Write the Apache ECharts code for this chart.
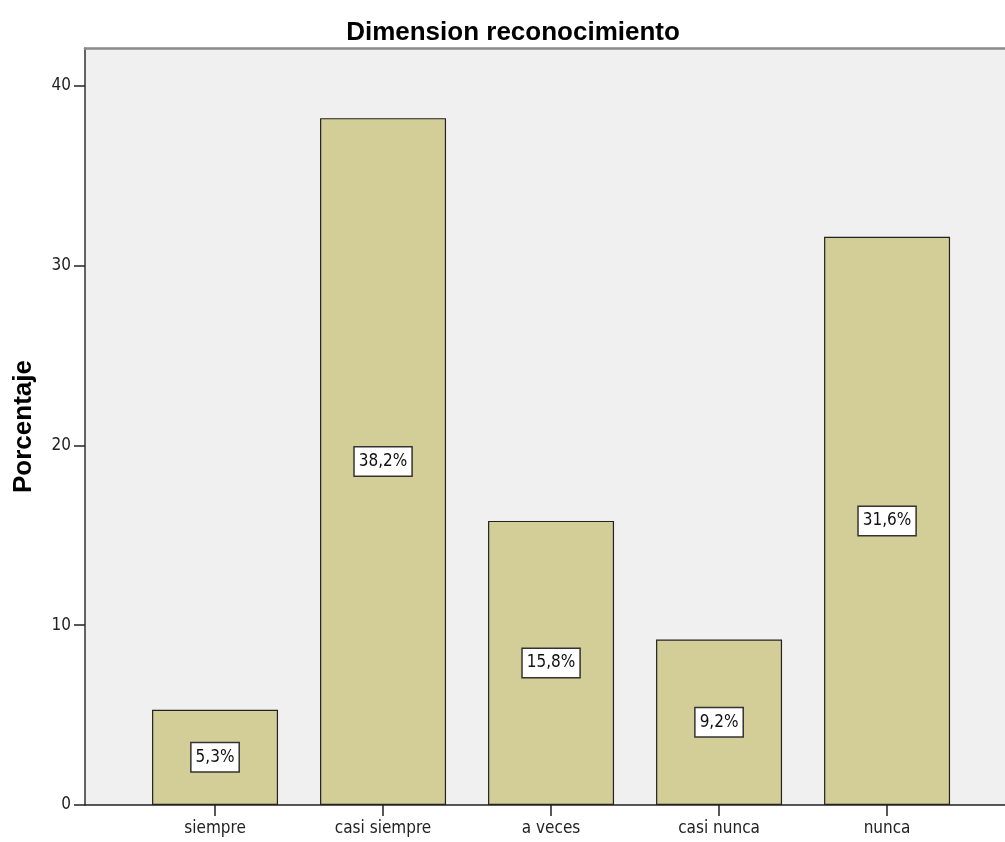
<!DOCTYPE html>
<html>
<head>
<meta charset="utf-8">
<script src="https://cdn.jsdelivr.net/npm/echarts@6/dist/echarts.min.js"></script>
<style>
  html, body { margin: 0; padding: 0; background: #ffffff; }
  #chart { width: 1005px; height: 842px; }
</style>
</head>
<body>
<div id="chart"></div>
<script>
// Frequency distribution for the "reconocimiento" dimension
const categories = ['siempre', 'casi siempre', 'a veces', 'casi nunca', 'nunca'];
const percentages = [5.3, 38.2, 15.8, 9.2, 31.6];
const yTicks = [0, 10, 20, 30, 40];

const positions = categories.map((_, i) => i);
const barData = percentages.map((v, i) => [positions[i], v]);

const fmtPct = v => v.toFixed(1).replace('.', ',') + '%';

const chart = echarts.init(document.getElementById('chart'), null, { renderer: 'canvas' });

const FONT = '"Liberation Sans", Arial, sans-serif';
const NARROW = '"DejaVu Sans Condensed", "Liberation Sans Narrow", sans-serif';

chart.setOption({
  animation: false,
  backgroundColor: '#ffffff',
  title: {
    text: 'Dimension reconocimiento',
    left: 508,
    textAlign: 'center',
    top: 15,
    textStyle: { fontFamily: FONT, fontSize: 26, fontWeight: 'bold', color: '#000' }
  },
  grid: {
    left: 85,
    right: 0,
    top: 48,
    bottom: 37,
    show: true,
    backgroundColor: '#f0f0f0',
    borderWidth: 0
  },
  xAxis: [
    {
      type: 'value',
      min: -0.774,
      max: 4.702,
      position: 'bottom',
      splitLine: { show: false },
      axisLine: { show: true, onZero: false, lineStyle: { color: '#222', width: 1.5 } },
      axisTick: {
        show: true,
        length: 11,
        customValues: positions,
        lineStyle: { color: '#222', width: 1.5 }
      },
      axisLabel: {
        show: true,
        customValues: positions,
        margin: 15,
        fontFamily: NARROW,
        fontSize: 17,
        color: '#222',
        formatter: v => categories[Math.round(v)]
      }
    },
    {
      type: 'value',
      min: -0.774,
      max: 4.702,
      position: 'top',
      splitLine: { show: false },
      axisLine: { show: true, onZero: false, lineStyle: { color: '#8a8a8a', width: 2.5 } },
      axisTick: { show: false },
      axisLabel: { show: false }
    }
  ],
  yAxis: {
    type: 'value',
    min: 0,
    max: 42.1,
    interval: 10,
    name: 'Porcentaje',
    nameLocation: 'middle',
    nameGap: 48,
    nameTextStyle: { fontFamily: FONT, fontSize: 26, fontWeight: 'bold', color: '#000' },
    splitLine: { show: false },
    axisLine: { show: true, onZero: false, lineStyle: { color: '#333', width: 1.5 } },
    axisTick: {
      show: true,
      length: 11,
      customValues: yTicks,
      lineStyle: { color: '#222', width: 1.5 }
    },
    axisLabel: {
      customValues: yTicks,
      margin: 14,
      fontFamily: NARROW,
      fontSize: 17,
      color: '#222'
    }
  },
  series: [
    {
      type: 'bar',
      xAxisIndex: 0,
      data: barData,
      barWidth: 126,
      itemStyle: { color: '#d3ce97', borderColor: '#222', borderWidth: 1.2 },
      label: {
        show: true,
        position: 'inside',
        formatter: p => fmtPct(p.value[1]),
        fontFamily: NARROW,
        fontSize: 17,
        color: '#111',
        backgroundColor: '#ffffff',
        borderColor: '#333',
        borderWidth: 1.5,
        padding: [6, 4, 5, 4]
      }
    }
  ]
});
</script>
</body>
</html>
